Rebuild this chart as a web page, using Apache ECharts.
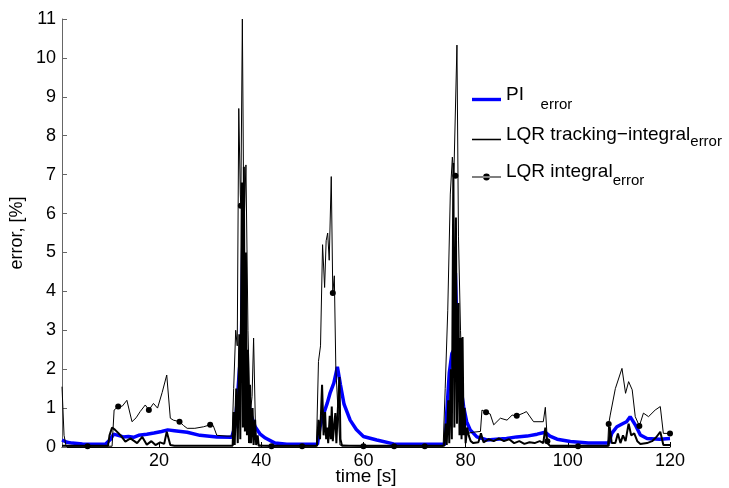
<!DOCTYPE html>
<html>
<head>
<meta charset="utf-8">
<script src="https://cdn.jsdelivr.net/npm/echarts@6/dist/echarts.min.js"></script>
<style>
html,body{margin:0;padding:0;background:#fff;}
#chart{width:729px;height:488px;}
</style>
</head>
<body>
<div id="chart"></div>
<script>
// ---- data ----
const seriesNames = ['PI', 'LQR tracking-integral', 'LQR integral'];
const xTicks = [20, 40, 60, 80, 100, 120];
const yTicks = [0,1,2,3,4,5,6,7,8,9,10,11];

const piTime  = [1,2,3,5,9.5,10.5,11.1,12,13,14,15,16,17.6,19,20.5,21.7,23,25.5,28,31.3,34.2,34.8,35.3,35.7,36.1,36.4,36.7,37.2,37.8,38.8,39.8,40.8,42.7,45,51,51.5,52.2,52.9,53.5,54.2,54.9,55.5,56.2,57.4,58.6,60,62.6,65.9,70,76,76.3,76.8,77.3,77.7,78.0,78.4,79.0,79.6,80.2,80.9,82.2,84.2,86,88,90,92,94,95.6,96.5,97.9,100.5,104,108,108.6,109.6,110.9,111.5,112.2,113.2,114.2,115.5,118,120];
const piError = [0.18,0.12,0.1,0.08,0.07,0.2,0.33,0.3,0.26,0.27,0.25,0.3,0.33,0.36,0.4,0.44,0.42,0.38,0.3,0.26,0.25,0.5,1.2,1.95,2.5,5.4,3.0,1.6,0.9,0.52,0.33,0.23,0.1,0.07,0.07,0.52,0.85,1.12,1.4,1.64,2.06,1.6,1.1,0.69,0.45,0.27,0.18,0.08,0.07,0.07,0.87,1.9,2.4,2.5,4.47,2.6,1.6,1.04,0.65,0.44,0.26,0.18,0.2,0.22,0.26,0.28,0.33,0.38,0.28,0.2,0.14,0.1,0.1,0.35,0.52,0.61,0.65,0.78,0.57,0.31,0.22,0.2,0.22];

const trackTime  = [1,10,10.3,10.8,11.4,12.4,13.4,14.4,15.7,16.7,17.6,18.5,19.3,20.2,21,21.5,22.2,23,34.4,
  34.6,34.8,35.1,35.4,35.7,35.9,36.2,36.4,36.6,36.8,37.0,37.2,37.4,37.6,37.8,38.0,38.3,38.5,38.8,39.0,39.3,39.5,
  50.9,51.2,51.5,51.9,52.2,52.5,52.7,52.9,53.1,53.4,53.6,53.8,54.0,54.3,54.5,54.7,55.0,55.3,55.5,55.8,
  75.8,76.1,76.3,76.6,76.8,77.1,77.3,77.6,77.8,78.1,78.3,78.6,78.8,79.0,79.2,79.4,79.6,79.8,80.0,80.3,80.6,81,
  81.5,82.5,83,83.5,84.5,85.5,86.5,87.5,88.5,89.5,90.5,91.5,92.5,93.5,94.5,95.2,95.6,96.0,96.5,
  108,108.2,108.6,109.3,109.8,110.3,110.8,111.3,111.9,112.4,113.0,113.6,114.2,115.5,116.5,117.3,118.1,118.7,120];
const trackError = [0.03,0.03,0.3,0.5,0.44,0.31,0.14,0.22,0.1,0.26,0.06,0.15,0.05,0.12,0.08,0.39,0.05,0.03,0.03,
  0.9,0.05,1.5,0.1,2.9,0.2,6.8,0.5,7.2,0.4,5.0,0.3,2.5,0.1,1.6,0.1,1.0,0.05,0.7,0.05,0.3,0.03,
  0.03,0.7,0.2,1.6,0.3,0.9,0.2,0.5,0.1,0.8,0.2,1.04,0.15,0.6,0.87,0.1,1.0,1.8,0.2,0.03,
  0.03,0.6,0.05,1.2,0.1,2.0,0.2,7.3,0.5,5.9,0.6,3.7,0.3,2.8,0.2,2.83,0.3,1.0,0.1,0.5,0.3,0.15,
  0.1,0.12,0.35,0.12,0.2,0.15,0.22,0.15,0.2,0.1,0.15,0.08,0.12,0.1,0.15,0.1,0.5,0.1,0.03,
  0.03,0.52,0.1,0.1,0.35,0.1,0.3,0.15,0.6,0.3,0.35,0.15,0.08,0.1,0.15,0.25,0.39,0.05,0.05];

const intTime  = [1.0,1.4,1.8,6,10.8,11.2,12,12.8,13.7,14.7,15.5,16.3,17.3,18,18.9,19.7,20.6,21.5,22.2,22.8,24,24.8,25.5,27,28.7,30,30.6,31.3,33.3,34.3,
  34.6,35.0,35.3,35.6,35.9,36,36.3,36.6,37.0,37.4,37.8,38.2,38.5,38.9,39.5,42,48,50.8,
  51.2,51.6,52.0,52.4,52.7,53.0,53.3,53.7,54,54.3,54.6,55.0,55.4,60,66,72,75.6,
  76.0,76.5,77.0,77.4,77.7,78,78.3,78.6,79.0,79.4,79.8,80.3,81.5,82.9,83.2,84,84.8,85.5,86.8,88.1,89.1,90,91.3,91.9,93.3,95.2,95.6,96,96.5,102,107.8,
  108,108.3,109.3,110.6,111.3,111.9,112.6,113.2,114,114.8,115.8,117.1,118.1,118.7,120];
const intError = [1.55,0.3,0.02,0.02,0.02,0.95,1.04,1.05,1.2,0.65,0.75,0.91,1.08,0.95,1.12,1.0,1.4,1.85,0.74,0.69,0.65,0.55,0.48,0.48,0.52,0.57,0.55,0.3,0.28,0.28,
  1.5,3.0,2.6,8.7,6.5,6.2,11.0,5.5,7.25,3.0,0.8,1.3,2.8,0.3,0.05,0.02,0.02,0.02,
  2.2,2.6,5.2,4.1,5.3,5.5,4.8,6.95,3.96,4.4,2.0,1.0,0.05,0.02,0.02,0.02,0.02,
  1.5,3.5,6.5,7.45,7.0,6.97,10.33,5.4,3.0,1.2,0.5,0.35,0.38,0.4,0.95,0.89,0.85,0.57,0.74,0.69,0.82,0.8,0.87,0.91,0.65,0.65,1.02,0.15,0.02,0.02,0.02,
  0.59,0.82,1.5,2.02,1.38,1.68,1.47,0.78,0.54,0.87,0.78,0.95,1.04,0.35,0.35];
const intMarkerEvery = 6;

// ---- chart ----
const chart = echarts.init(document.getElementById('chart'), null, {renderer: 'canvas'});
const FONT = 'Liberation Sans, Arial, Helvetica, sans-serif';

const richStyles = {
  m:  {fontSize: 19, fontFamily: FONT, color: '#000', padding: [0,0,10,0]},
  s1: {fontSize: 15, fontFamily: FONT, color: '#000', padding: [10,0,0,0]},
  s2: {fontSize: 15, fontFamily: FONT, color: '#000', padding: [5,0,0,0]},
  s3: {fontSize: 15, fontFamily: FONT, color: '#000', padding: [7,0,0,0]}
};

const option = {
  animation: false,
  backgroundColor: '#fff',
  grid: {left: 62, right: 59, top: 19, bottom: 41, containLabel: false, outerBoundsMode: 'none'},
  legend: {
    left: 472, top: 85, orient: 'vertical', padding: 0, itemGap: 13,
    itemWidth: 29, itemHeight: 12,
    itemStyle: {borderWidth: 0},
    data: [
      {name: seriesNames[0], icon: 'path://M0,0h30v3.5h-30z'},
      {name: seriesNames[1], icon: 'path://M0,0h30v1.6h-30z'},
      {name: seriesNames[2], icon: 'path://M0,5.55h30v0.9h-30z M11.5,6a3.5,3.5 0 1,0 7,0a3.5,3.5 0 1,0 -7,0z'}
    ],
    formatter: function (name) {
      if (name === seriesNames[0]) return '{m|PI}{s1|    error}';
      if (name === seriesNames[1]) return '{m|LQR tracking\u2212integral}{s2|error}';
      return '{m|LQR integral}{s3|error}';
    },
    textStyle: {rich: richStyles, fontFamily: FONT}
  },
  xAxis: {
    type: 'value', min: 1, max: 120,
    name: 'time [s]', nameLocation: 'middle', nameGap: 20, nameMoveOverlap: false,
    nameTextStyle: {fontSize: 19, fontFamily: FONT, color: '#000'},
    axisLine: {show: true, lineStyle: {color: '#000', width: 1}},
    axisTick: {show: true, inside: true, length: 5, customValues: xTicks, lineStyle: {color: '#000'}},
    axisLabel: {customValues: xTicks, fontSize: 18, fontFamily: FONT, color: '#000', margin: 5},
    splitLine: {show: false}
  },
  yAxis: {
    type: 'value', min: 0, max: 11, interval: 1,
    name: 'error, [%]', nameLocation: 'middle', nameGap: 36, nameRotate: 90, nameMoveOverlap: false,
    nameTextStyle: {fontSize: 18, fontFamily: FONT, color: '#000'},
    axisLine: {show: true, lineStyle: {color: '#666', width: 1}},
    axisTick: {show: true, inside: true, length: 5, lineStyle: {color: '#666'}},
    axisLabel: {fontSize: 18, fontFamily: FONT, color: '#000', margin: 6},
    splitLine: {show: false}
  },
  series: [
    {
      name: seriesNames[0], type: 'line', symbol: 'none',
      lineStyle: {color: '#0000ff', width: 3.5}, itemStyle: {color: '#0000ff'},
      data: piTime.map((t, i) => [t, piError[i]])
    },
    {
      name: seriesNames[1], type: 'line', symbol: 'none',
      lineStyle: {color: '#000', width: 2}, itemStyle: {color: '#000'},
      data: trackTime.map((t, i) => [t, trackError[i]])
    },
    {
      name: seriesNames[2], type: 'line', symbol: 'circle', symbolSize: 6, showAllSymbol: true,
      lineStyle: {color: '#000', width: 1}, itemStyle: {color: '#000'},
      data: intTime.map((t, i) => ({value: [t, intError[i]], symbol: (t % intMarkerEvery === 0) ? 'circle' : 'none'}))
    }
  ]
};
chart.setOption(option);
</script>
</body>
</html>
